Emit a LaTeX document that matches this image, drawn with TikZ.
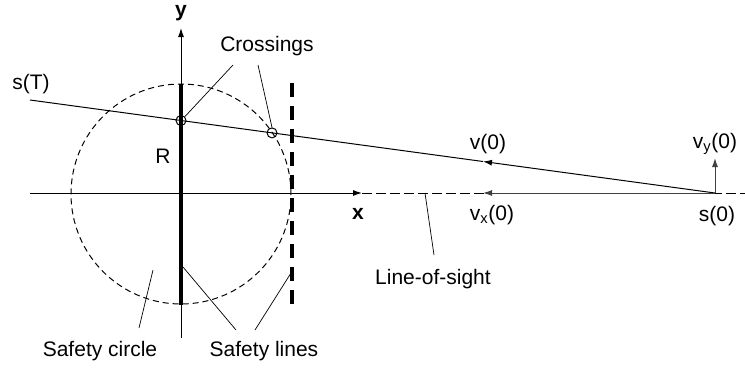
\documentclass[tikz,border=0pt]{standalone}
\usepackage{fontspec}
\setmainfont{Liberation Sans}
\usetikzlibrary{arrows.meta}
\tikzset{
  every picture/.style={line width=1pt},
  lbl/.style={font=\fontsize{21}{25}\selectfont, inner sep=0pt},
  axis/.style={-{Latex[length=9pt,width=6pt]}},
  vec/.style={-{Latex[length=9pt,width=6pt]}, draw=black!75},
  safety/.style={line width=4pt},
  leader/.style={line width=0.7pt},
  cross/.style={circle, draw, minimum size=10pt, inner sep=0pt, line width=1pt},
}

\begin{document}
\begin{tikzpicture}[x=1pt, y=-1pt]
  \useasboundingbox (0,0) rectangle (745,372);
  \coordinate (O) at (181,193);
  \coordinate (s0) at (715,193);
  \coordinate (sT) at (30,100);
  \coordinate (vpt) at (483,161.5);
  \coordinate (vxpt) at (483,193);
  \coordinate (vypt) at (715,158);
  % axes and line of sight
  \coordinate (ybot) at (181,338); \coordinate (ytop) at (181,28);
  \coordinate (xl) at (30,193); \coordinate (xr) at (362,193); \coordinate (los) at (745,193);
  \draw[axis] (ybot) -- (ytop);
  \draw[axis] (xl) -- (xr);
  \draw[dash pattern=on 10pt off 4pt] (xr) -- (los);
  % safety circle and lines
  \draw[dash pattern=on 6pt off 4pt] (181,194) circle[radius=110pt];
  \coordinate (l1a) at (181,84); \coordinate (l1b) at (181,305);
  \coordinate (l2a) at (292,83); \coordinate (l2b) at (292,305);
  \draw[safety] (l1a) -- (l1b);
  \draw[safety, dash pattern=on 14pt off 9pt] (l2a) -- (l2b);
  % trajectory and velocities
  \draw[vec, draw=black] (s0) -- (vpt);
  \draw (vpt) -- (sT);
  \draw[vec] (s0) -- (vxpt);
  \draw[vec] (s0) -- (vypt);
  \node[cross] (c1) at (181,120.5) {};
  \node[cross] (c2) at (272,132.9) {};
  % labels
  \node[lbl, font=\fontsize{21}{25}\selectfont\bfseries, anchor=north] (ylab) at (181,5) {y};
  \node[lbl, font=\fontsize{21}{25}\selectfont\bfseries] (xlab) at (358,214) {x};
  \node[lbl] (sTlab) at (31,84) {s(T)};
  \node[lbl] (Rlab) at (163,156) {R};
  \node[lbl] (crlab) at (267,46) {Crossings};
  \node[lbl] (vlab) at (488,144) {v(0)};
  \node[lbl] (vxlab) at (492,215) {v\textsubscript{x}(0)};
  \node[lbl] (vylab) at (715,144) {v\textsubscript{y}(0)};
  \node[lbl] (s0lab) at (717,216) {s(0)};
  \node[lbl] (loslab) at (433,279) {Line-of-sight};
  \node[lbl] (sclab) at (100,351) {Safety circle};
  \node[lbl] (sllab) at (264,351) {Safety lines};
  % leaders
  \coordinate (k1) at (233,65); \coordinate (k2) at (258,65);
  \draw[leader] (k1) -- (c1.north east);
  \draw[leader] (k2) -- (c2.north);
  \coordinate (q1) at (425,193); \coordinate (q2) at (434,255);
  \draw[leader] (q1) -- (q2);
  \coordinate (p1) at (139,328); \coordinate (p2) at (153,270);
  \draw[leader] (p1) -- (p2);
  \coordinate (m1) at (236,330); \coordinate (m2) at (183,267);
  \coordinate (n1) at (255,330); \coordinate (n2) at (291,273);
  \draw[leader] (m1) -- (m2);
  \draw[leader] (n1) -- (n2);
\end{tikzpicture}
\end{document}
